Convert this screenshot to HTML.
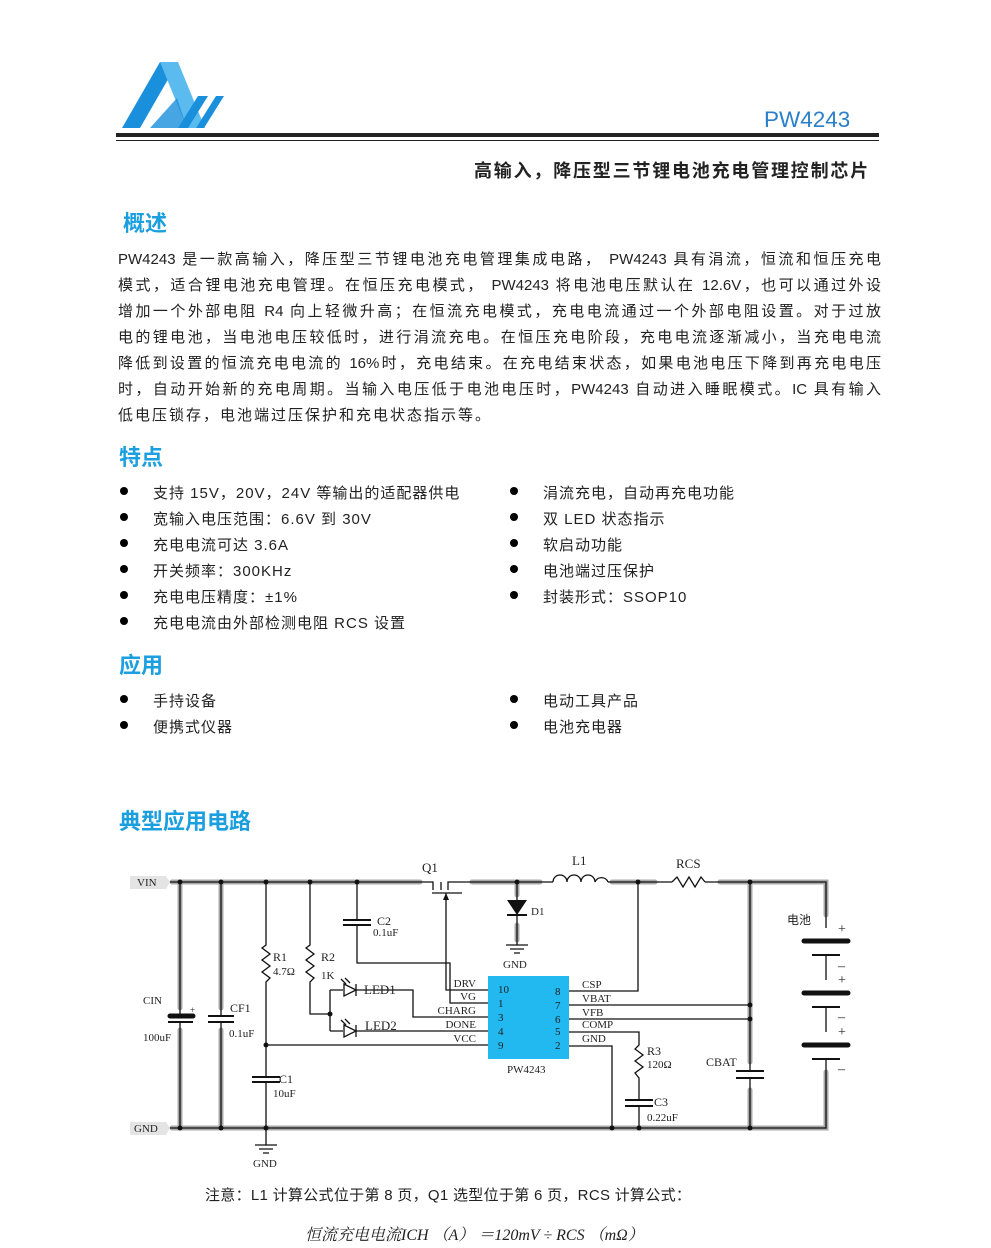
<!DOCTYPE html>
<html><head><meta charset="utf-8">
<style>
body{margin:0;background:#fff;}
#p{position:relative;width:991px;height:1248px;overflow:hidden;font-family:"Liberation Sans","Noto Sans CJK SC",sans-serif;color:#222;}
.a{position:absolute;white-space:nowrap;}
.h{position:absolute;color:#1b9fdf;font-weight:bold;font-size:22px;}
.ln{position:absolute;left:118px;width:763px;font-size:15px;text-align:justify;text-align-last:justify;white-space:nowrap;}
.b{position:absolute;font-size:15px;white-space:nowrap;letter-spacing:1px;}
.dot{position:absolute;width:8px;height:8px;border-radius:50%;background:#000;}
svg text{font-family:"Liberation Serif","Noto Serif CJK SC",serif;fill:#222;}
</style></head><body><div id="p">
<svg class="a" style="left:0;top:0" width="991" height="150">
<polygon points="122,128 160,62 178,62 140,128" fill="#1a8fdc"/>
<polygon points="160,62 178,62 205,128 187,128" fill="#5bbbee"/>
<polygon points="150,128 177,98 187,128" fill="#1a8fdc" opacity="0.8"/>
<polygon points="178,128 198,96 208,96 188,128" fill="#1a8fdc"/>
<polygon points="196,128 216,96 224,96 204,128" fill="#1a8fdc"/>
<rect x="116" y="133" width="763" height="4" fill="#222"/>
<rect x="116" y="140" width="763" height="1" fill="#222"/>
<text x="764" y="127" style="font-family:'Liberation Sans',sans-serif;font-size:22.5px;fill:#2a7fc8">PW4243</text>
</svg>
<div class="a" style="left:474px;top:157px;font-size:18px;letter-spacing:1.8px;font-weight:bold;">高输入，降压型三节锂电池充电管理控制芯片</div>
<div class="h" style="left:123px;top:206px;">概述</div>
<div class="ln" style="top:248px">PW4243 是一款高输入，降压型三节锂电池充电管理集成电路， PW4243 具有涓流，恒流和恒压充电</div>
<div class="ln" style="top:274px">模式，适合锂电池充电管理。在恒压充电模式， PW4243 将电池电压默认在 12.6V，也可以通过外设</div>
<div class="ln" style="top:300px">增加一个外部电阻 R4 向上轻微升高；在恒流充电模式，充电电流通过一个外部电阻设置。对于过放</div>
<div class="ln" style="top:326px">电的锂电池，当电池电压较低时，进行涓流充电。在恒压充电阶段，充电电流逐渐减小，当充电电流</div>
<div class="ln" style="top:352px">降低到设置的恒流充电电流的 16%时，充电结束。在充电结束状态，如果电池电压下降到再充电电压</div>
<div class="ln" style="top:378px">时，自动开始新的充电周期。当输入电压低于电池电压时，PW4243 自动进入睡眠模式。IC 具有输入</div>
<div class="ln" style="top:404px;text-align-last:left;letter-spacing:2px">低电压锁存，电池端过压保护和充电状态指示等。</div>
<div class="h" style="left:119px;top:440px;">特点</div>
<div class="dot" style="left:120px;top:487px"></div><div class="b" style="left:153px;top:482px">支持 15V，20V，24V 等输出的适配器供电</div>
<div class="dot" style="left:120px;top:513px"></div><div class="b" style="left:153px;top:508px">宽输入电压范围：6.6V 到 30V</div>
<div class="dot" style="left:120px;top:539px"></div><div class="b" style="left:153px;top:534px">充电电流可达 3.6A</div>
<div class="dot" style="left:120px;top:565px"></div><div class="b" style="left:153px;top:560px">开关频率：300KHz</div>
<div class="dot" style="left:120px;top:591px"></div><div class="b" style="left:153px;top:586px">充电电压精度：±1%</div>
<div class="dot" style="left:120px;top:617px"></div><div class="b" style="left:153px;top:612px">充电电流由外部检测电阻 RCS 设置</div>
<div class="dot" style="left:510px;top:487px"></div><div class="b" style="left:543px;top:482px">涓流充电，自动再充电功能</div>
<div class="dot" style="left:510px;top:513px"></div><div class="b" style="left:543px;top:508px">双 LED 状态指示</div>
<div class="dot" style="left:510px;top:539px"></div><div class="b" style="left:543px;top:534px">软启动功能</div>
<div class="dot" style="left:510px;top:565px"></div><div class="b" style="left:543px;top:560px">电池端过压保护</div>
<div class="dot" style="left:510px;top:591px"></div><div class="b" style="left:543px;top:586px">封装形式：SSOP10</div>
<div class="h" style="left:119px;top:648px;">应用</div>
<div class="dot" style="left:120px;top:695px"></div><div class="b" style="left:153px;top:690px">手持设备</div>
<div class="dot" style="left:120px;top:721px"></div><div class="b" style="left:153px;top:716px">便携式仪器</div>
<div class="dot" style="left:510px;top:695px"></div><div class="b" style="left:543px;top:690px">电动工具产品</div>
<div class="dot" style="left:510px;top:721px"></div><div class="b" style="left:543px;top:716px">电池充电器</div>
<div class="h" style="left:119px;top:804px;">典型应用电路</div>

<svg class="a" style="left:0;top:840px" width="991" height="340" viewBox="0 840 991 340">
<g stroke="#a8a8a8" stroke-width="5" fill="none" stroke-linecap="round">
<path d="M172 882H420M472 882H540M612 882H655M720 882H826V915M826 1072V1128H172"/>
<path d="M180 885V1008M180 1030V1126M221 885V1008M221 1030V1126M750 885V1062M750 1090V1126M517 885V895M517 925V940"/>
</g>
<g stroke="#111" stroke-width="1.3" fill="none">
<path d="M170 882H420M457 882H553M608 882H672M705 882H826V928M826 955V980M826 1007V1032M826 1059V1128H170"/>
<path d="M180 882V1016M180 1022V1128M221 882V1016M221 1022V1128"/>
<path d="M266 882V945L262 948L270 954L262 960L270 966L262 972L270 978L266 982V1077M266 1082V1145"/>
<path d="M310 882V945L306 948L314 954L306 960L314 966L306 972L314 978L310 982V1014H330"/>
<path d="M330 990V1031M330 990H343M356 990H413V1017H488M330 1031H343M356 1031H488M266 1045H488"/>
<path d="M357 882V920M357 925V963H450V1003H488"/>
<path d="M420 882H433V890M457 882H448V890M432 893H462M441 890V882M446 893V990H488"/>
<path d="M517 882V900M517 915V945"/>
<path d="M553 882a7 7 0 0 1 14 0a7 7 0 0 1 14 0a7 7 0 0 1 14 0a7 7 0 0 1 13 0"/>
<path d="M672 882L677 877L683 887L689 877L695 887L701 877L705 882"/>
<path d="M638 882V991H569M569 1005H750M569 1019H750M750 882V1071M750 1078V1128"/>
<path d="M569 1032H639V1045L635 1049L643 1055L635 1061L643 1067L635 1073L639 1078V1100M639 1106V1128"/>
<path d="M569 1046H612V1128"/>
</g>
<g stroke="#111" stroke-width="2" fill="none">
<path d="M343 920H371M343 925H371M252 1077H280M252 1082H280M208 1016H234M208 1022H234M625 1100H653M625 1106H653M736 1071H764M736 1078H764"/>
<path d="M812 955H840M812 1007H840M812 1059H840"/>
</g>
<g stroke="#111" stroke-width="5" stroke-linecap="round"><path d="M170 1016H193M804 941H848M804 993H848M804 1045H848"/></g>
<path d="M168 1022H193" stroke="#111" stroke-width="2"/>
<g stroke="#111" stroke-width="1.3"><path d="M255 1145H277M259 1149H273M263 1153H269M506 945H528M510 949H524M514 953H520"/></g>
<polygon points="507,900 527,900 517,915" fill="#111"/><path d="M507 915H527" stroke="#111" stroke-width="2"/>
<path d="M446 893L443 900H449Z" fill="#111"/>
<g fill="none" stroke="#111" stroke-width="1.3">
<path d="M344 984L356 990L344 996ZM356 984V996M344 1025L356 1031L344 1037ZM356 1025V1037"/>
<path d="M346 984L341 979M350 983L345 978M346 1025L341 1020M350 1024L345 1019"/>
</g>
<g fill="#111"><circle cx="180" cy="882" r="2.5"/><circle cx="221" cy="882" r="2.5"/><circle cx="266" cy="882" r="2.5"/><circle cx="310" cy="882" r="2.5"/><circle cx="357" cy="882" r="2.5"/><circle cx="517" cy="882" r="2.5"/><circle cx="638" cy="882" r="2.5"/><circle cx="750" cy="882" r="2.5"/><circle cx="180" cy="1128" r="2.5"/><circle cx="221" cy="1128" r="2.5"/><circle cx="266" cy="1128" r="2.5"/><circle cx="266" cy="1045" r="2.5"/><circle cx="330" cy="1014" r="2.5"/><circle cx="750" cy="1005" r="2.5"/><circle cx="750" cy="1019" r="2.5"/><circle cx="612" cy="1128" r="2.5"/><circle cx="639" cy="1128" r="2.5"/><circle cx="750" cy="1128" r="2.5"/></g>
<rect x="488" y="976" width="81" height="83" fill="#22b8f0"/>
<polygon points="130,876 166,876 170,882 166,889 130,889" fill="#e4e4e4"/>
<polygon points="130,1122 166,1122 170,1128 166,1135 130,1135" fill="#e4e4e4"/>
<g font-size="11">
<text x="137" y="886">VIN</text><text x="134" y="1132">GND</text>
<text x="422" y="872" font-size="13">Q1</text><text x="572" y="865" font-size="13">L1</text><text x="676" y="868" font-size="13">RCS</text>
<text x="531" y="915">D1</text><text x="503" y="968">GND</text><text x="253" y="1167">GND</text>
<text x="377" y="925" font-size="12">C2</text><text x="373" y="936">0.1uF</text>
<text x="273" y="961" font-size="12">R1</text><text x="273" y="975">4.7Ω</text>
<text x="321" y="961" font-size="12">R2</text><text x="321" y="979">1K</text>
<text x="364" y="994" font-size="13">LED1</text><text x="365" y="1030" font-size="13">LED2</text>
<text x="143" y="1004">CIN</text><text x="190" y="1013" font-size="9">+</text><text x="143" y="1041">100uF</text>
<text x="230" y="1012" font-size="12">CF1</text><text x="229" y="1037">0.1uF</text>
<text x="279" y="1083" font-size="12">C1</text><text x="273" y="1097">10uF</text>
<g text-anchor="end"><text x="476" y="987">DRV</text><text x="476" y="1000">VG</text><text x="476" y="1014">CHARG</text><text x="476" y="1028">DONE</text><text x="476" y="1042">VCC</text></g>
<text x="498" y="993">10</text><text x="498" y="1007">1</text><text x="498" y="1021">3</text><text x="498" y="1035">4</text><text x="498" y="1049">9</text>
<text x="555" y="995">8</text><text x="555" y="1009">7</text><text x="555" y="1023">6</text><text x="555" y="1035">5</text><text x="555" y="1049">2</text>
<text x="582" y="988">CSP</text><text x="582" y="1002">VBAT</text><text x="582" y="1016">VFB</text><text x="582" y="1028">COMP</text><text x="582" y="1042">GND</text>
<text x="507" y="1073">PW4243</text>
<text x="647" y="1055" font-size="12">R3</text><text x="647" y="1068">120Ω</text>
<text x="654" y="1106" font-size="12">C3</text><text x="647" y="1121">0.22uF</text>
<text x="706" y="1066" font-size="12">CBAT</text>
<text x="787" y="924" font-size="12" style="font-family:'Noto Sans CJK SC',sans-serif">电池</text>
<g font-size="14" style="font-family:'Liberation Sans',sans-serif"><text x="838" y="933">+</text><text x="838" y="970">–</text><text x="838" y="984">+</text><text x="838" y="1021">–</text><text x="838" y="1036">+</text><text x="838" y="1073">–</text></g>
</g>
</svg>
<div class="a" style="left:205px;top:1184px;font-size:15px;letter-spacing:0.3px;">注意：L1 计算公式位于第 8 页，Q1 选型位于第 6 页，RCS 计算公式：</div>
<div class="a" style="left:305px;top:1222px;font-size:16px;font-style:italic;font-family:'Liberation Serif','Noto Serif CJK SC',serif;">恒流充电电流ICH （A） ＝120mV ÷ RCS （mΩ）</div>
</div></body></html>
